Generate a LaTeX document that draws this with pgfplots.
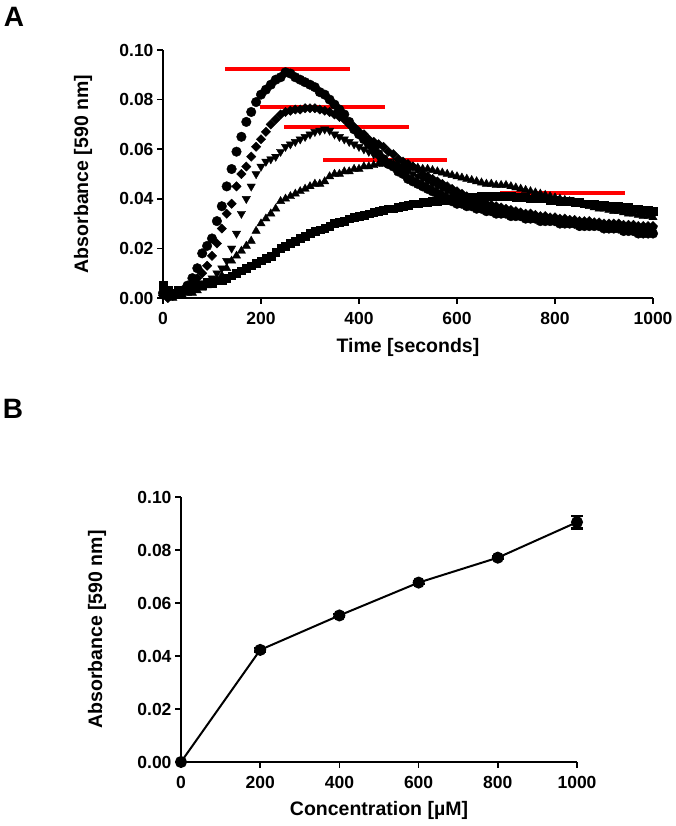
\documentclass[border=0pt]{standalone}
\usepackage{pgfplots}
\pgfplotsset{compat=1.18}
\usepackage{pgfplotstable}
\usepackage{fontspec}
\setmainfont{Liberation Sans}

\pgfplotstableread{
t a b c d e
0 0.002 0.001 0.001 0.002 0.005
10 0.001 0.000 0.001 0.001 0.003
20 0.001 0.001 0.001 0.000 0.002
30 0.002 0.002 0.002 0.001 0.003
40 0.003 0.003 0.002 0.001 0.003
50 0.005 0.004 0.003 0.002 0.004
60 0.008 0.006 0.004 0.002 0.004
70 0.012 0.008 0.005 0.003 0.005
80 0.018 0.010 0.006 0.004 0.005
90 0.021 0.013 0.007 0.005 0.006
100 0.024 0.017 0.008 0.006 0.006
110 0.031 0.022 0.010 0.007 0.007
120 0.037 0.028 0.012 0.009 0.007
130 0.045 0.034 0.015 0.012 0.008
140 0.052 0.038 0.020 0.015 0.009
150 0.059 0.045 0.026 0.017 0.010
160 0.065 0.050 0.034 0.019 0.011
170 0.071 0.053 0.040 0.021 0.012
180 0.075 0.057 0.045 0.023 0.013
190 0.079 0.061 0.050 0.027 0.014
200 0.082 0.064 0.053 0.030 0.015
210 0.084 0.067 0.055 0.032 0.016
220 0.086 0.070 0.056 0.034 0.017
230 0.088 0.072 0.057 0.036 0.0185
240 0.089 0.074 0.059 0.039 0.020
250 0.091 0.075 0.061 0.040 0.021
260 0.0905 0.0755 0.062 0.041 0.022
270 0.089 0.076 0.063 0.042 0.023
280 0.088 0.076 0.064 0.043 0.024
290 0.087 0.0765 0.065 0.044 0.025
300 0.086 0.0765 0.066 0.045 0.026
310 0.085 0.0765 0.067 0.046 0.027
320 0.083 0.076 0.0675 0.046 0.0275
330 0.082 0.0755 0.068 0.047 0.028
340 0.080 0.075 0.0675 0.049 0.029
350 0.078 0.074 0.066 0.050 0.030
360 0.076 0.073 0.065 0.050 0.0305
370 0.074 0.072 0.064 0.051 0.031
380 0.071 0.070 0.063 0.051 0.032
390 0.068 0.069 0.062 0.052 0.0325
400 0.066 0.067 0.061 0.052 0.033
410 0.064 0.066 0.060 0.053 0.0335
420 0.062 0.064 0.059 0.053 0.034
430 0.060 0.063 0.058 0.0535 0.0345
440 0.058 0.062 0.057 0.054 0.035
450 0.056 0.061 0.056 0.054 0.0355
460 0.054 0.059 0.055 0.054 0.036
470 0.053 0.058 0.054 0.054 0.036
480 0.051 0.056 0.053 0.0535 0.0365
490 0.050 0.055 0.052 0.053 0.037
500 0.048 0.054 0.051 0.053 0.0375
510 0.047 0.053 0.050 0.053 0.038
520 0.046 0.052 0.049 0.0525 0.038
530 0.045 0.050 0.048 0.052 0.0385
540 0.044 0.049 0.047 0.052 0.0385
550 0.043 0.048 0.046 0.0515 0.039
560 0.042 0.047 0.045 0.051 0.039
570 0.041 0.046 0.044 0.0505 0.0395
580 0.040 0.045 0.043 0.050 0.0395
590 0.039 0.044 0.042 0.0495 0.040
600 0.038 0.043 0.041 0.049 0.040
610 0.038 0.042 0.040 0.0485 0.040
620 0.037 0.041 0.039 0.048 0.0405
630 0.037 0.040 0.038 0.0475 0.0405
640 0.036 0.0395 0.0375 0.047 0.0405
650 0.036 0.039 0.037 0.0465 0.041
660 0.035 0.038 0.0365 0.046 0.041
670 0.035 0.0375 0.036 0.046 0.041
680 0.034 0.037 0.0355 0.0455 0.041
690 0.034 0.0365 0.035 0.0455 0.041
700 0.034 0.036 0.0345 0.0455 0.041
710 0.033 0.0355 0.034 0.045 0.041
720 0.033 0.035 0.034 0.0445 0.0405
730 0.033 0.0345 0.0335 0.044 0.0405
740 0.032 0.034 0.033 0.0435 0.0405
750 0.032 0.034 0.033 0.043 0.040
760 0.032 0.0335 0.0325 0.0425 0.040
770 0.031 0.033 0.032 0.042 0.040
780 0.031 0.033 0.032 0.0415 0.040
790 0.031 0.0325 0.0315 0.041 0.0395
800 0.031 0.0325 0.031 0.0405 0.0395
810 0.030 0.032 0.031 0.040 0.039
820 0.030 0.032 0.031 0.0395 0.039
830 0.030 0.0315 0.0305 0.039 0.039
840 0.030 0.0315 0.030 0.0385 0.0385
850 0.029 0.031 0.030 0.038 0.0385
860 0.029 0.031 0.030 0.0375 0.038
870 0.029 0.031 0.0295 0.037 0.038
880 0.029 0.0305 0.0295 0.0365 0.038
890 0.029 0.0305 0.029 0.036 0.0375
900 0.028 0.030 0.029 0.036 0.0375
910 0.028 0.030 0.029 0.0355 0.037
920 0.028 0.030 0.0285 0.035 0.037
930 0.028 0.030 0.0285 0.035 0.037
940 0.027 0.0295 0.0285 0.0345 0.0365
950 0.027 0.0295 0.028 0.034 0.0365
960 0.027 0.0295 0.028 0.034 0.036
970 0.026 0.029 0.028 0.0335 0.036
980 0.026 0.029 0.0275 0.033 0.0355
990 0.026 0.029 0.0275 0.033 0.0355
1000 0.026 0.029 0.0275 0.0325 0.035
}\kinetics

\pgfplotstableread{
x y err
0 0.0000 0.0000
200 0.0423 0.0006
400 0.0553 0.0006
600 0.0677 0.0006
800 0.0771 0.0006
1000 0.0905 0.0024
}\dose

\begin{document}
\begin{tikzpicture}
\path[use as bounding box] (0,0) rectangle (675pt,826pt);
\pgfplotsset{
  panel/.style={
    scale only axis,
    axis x line=bottom, axis y line=left,
    axis line style={-, line width=1.7pt, black},
    tick style={line width=1.7pt, black},
    major tick length=6pt,
    tick align=outside,
    xmin=0, xmax=1000, ymin=0, ymax=0.1,
    xtick={0,200,...,1000},
    ytick={0,0.02,...,0.1},
    scaled y ticks=false,
    /pgf/number format/assume math mode=true,
    /pgf/number format/1000 sep={},
    yticklabel style={/pgf/number format/fixed, /pgf/number format/fixed zerofill, /pgf/number format/precision=2},
    xticklabel style={yshift=-5pt},
    tick label style={font=\fontsize{17.5}{17.5}\selectfont\bfseries},
    label style={font=\fontsize{19.5}{20}\selectfont\bfseries},
    clip=false,
  }
}
% ---------------- Panel A ----------------
\begin{axis}[panel, at={(163pt,528pt)}, anchor=south west,
  width=490pt, height=248pt,
  xlabel={Time [seconds]}, ylabel={Absorbance [590 nm]},
  xlabel style={at={(axis description cs:0.5,-0.198)}, anchor=center},
  ylabel style={at={(axis description cs:-0.163,0.5)}, anchor=center},
]
\addplot[only marks, mark=square*, mark size=3.9pt, black] table[x=t, y=e] {\kinetics};
\addplot[only marks, mark=triangle*, mark size=4.8pt, black] table[x=t, y=d] {\kinetics};
\addplot[only marks, mark=triangle*, mark size=4.8pt, black, mark options={rotate=180}] table[x=t, y=c] {\kinetics};
\addplot[only marks, mark=square*, mark size=3.3pt, black, mark options={rotate=45}] table[x=t, y=b] {\kinetics};
\addplot[only marks, mark=*, mark size=4.8pt, black] table[x=t, y=a] {\kinetics};
\addplot[red, line width=4pt] coordinates {(127,0.0923) (382,0.0923)};
\addplot[red, line width=4pt] coordinates {(198,0.0771) (453,0.0771)};
\addplot[red, line width=4pt] coordinates {(247,0.0691) (502,0.0691)};
\addplot[red, line width=4pt] coordinates {(327,0.0556) (580,0.0556)};
\addplot[red, line width=4pt] coordinates {(688,0.0425) (943,0.0425)};
\end{axis}
% ---------------- Panel B ----------------
\begin{axis}[panel, at={(181pt,64pt)}, anchor=south west,
  width=396pt, height=265pt,
  xlabel={Concentration [µM]}, ylabel={Absorbance [590 nm]},
  xlabel style={at={(axis description cs:0.5,-0.181)}, anchor=center},
  ylabel style={at={(axis description cs:-0.212,0.5)}, anchor=center},
]
\addplot[black, line width=2pt, mark=*, mark size=5pt,
  error bars/.cd, y dir=both, y explicit,
  error bar style={line width=2pt},
  error mark options={rotate=90, mark size=6pt, line width=2.2pt}]
  table[x=x, y=y, y error=err] {\dose};
\end{axis}
\node[font=\fontsize{28}{28}\selectfont\bfseries] at (14pt,809pt) {A};
\node[font=\fontsize{28}{28}\selectfont\bfseries] at (13pt,417pt) {B};
\end{tikzpicture}
\end{document}
